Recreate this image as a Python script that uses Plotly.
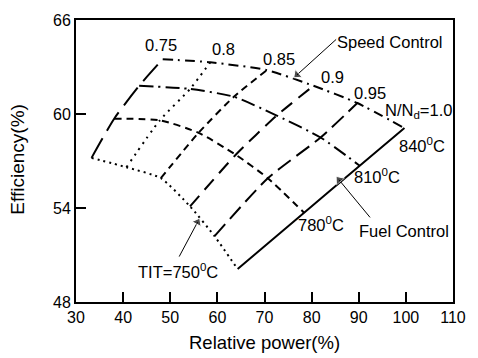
import plotly.graph_objects as go

# Grid of operating points: constant-TIT lines, each sampled at the speed ratios
speeds = [0.75, 0.8, 0.85, 0.9, 0.95, 1.0]
tits = [750, 780, 810, 840]

power_750 = [33.3, 40.7, 48.0, 54.2, 59.4, 64.3]
eff_750 = [57.2, 56.6, 55.9, 54.1, 52.2, 50.1]
power_780 = [38.1, 47.8, 56.0, 63.9, 70.7, 78.4]
eff_780 = [59.7, 59.6, 58.8, 57.4, 55.9, 53.7]
power_810 = [43.4, 54.2, 63.5, 72.6, 81.9, 90.2]
eff_810 = [61.8, 61.6, 61.1, 59.9, 58.5, 56.7]
power_840 = [48.4, 58.5, 70.5, 80.4, 89.7, 99.7]
eff_840 = [63.5, 63.3, 62.8, 61.8, 60.7, 59.1]

x_ticks = [30, 40, 50, 60, 70, 80, 90, 100, 110]
y_ticks = [48, 54, 60, 66]

powers = [power_750, power_780, power_810, power_840]
effs = [eff_750, eff_780, eff_810, eff_840]

FONT = "Arial, 'Liberation Sans', sans-serif"
fig = go.Figure()

tit_dash = ["2px,4px", "7px,5px", "14px,5px,2px,5px", "10px,5px,2px,5px"]
for p, e, d in zip(powers, effs, tit_dash):
    fig.add_trace(go.Scatter(x=p, y=e, mode="lines",
                             line=dict(color="black", width=2, dash=d, shape="spline", smoothing=0.6),
                             showlegend=False, hoverinfo="skip"))

speed_dash = ["22px,9px", "2px,5px", "7px,5px", "14px,8px", "16px,7px", "solid"]
for i, s in enumerate(speeds):
    xs = [p[i] for p in powers]
    ys = [e[i] for e in effs]
    fig.add_trace(go.Scatter(x=xs, y=ys, mode="lines",
                             line=dict(color="black", width=2, dash=speed_dash[i], shape="spline", smoothing=0.6),
                             showlegend=False, hoverinfo="skip"))

fs = 16.5
def txt(x, y, t, xanchor="center", size=fs):
    fig.add_annotation(x=x, y=y, text=t, showarrow=False, xanchor=xanchor, yanchor="middle",
                       font=dict(family=FONT, size=size, color="black"))

txt(48.0, 64.39, "0.75")
txt(61.4, 64.14, "0.8")
txt(73.0, 63.52, "0.85")
txt(84.4, 62.34, "0.9")
txt(92.4, 61.34, "0.95")
txt(95.1, 60.2, "N/N<sub>d</sub>=1.0", xanchor="left")
txt(103.5, 58.05, "840<sup>0</sup>C")
txt(93.9, 56.07, "810<sup>0</sup>C")
txt(81.9, 52.96, "780<sup>0</sup>C")
txt(99.5, 52.53, "Fuel Control")
txt(96.6, 64.57, "Speed Control")
txt(51.7, 49.99, "TIT=750<sup>0</sup>C")

def arrow(x0, y0, x1, y1):
    fig.add_trace(go.Scatter(x=[x0, x1], y=[y0, y1], mode="lines+markers",
                             line=dict(color="black", width=1),
                             marker=dict(symbol="triangle-up", size=[0, 9], color="black",
                                         angleref="previous"),
                             showlegend=False, hoverinfo="skip"))

arrow(85.2, 64.76, 76.9, 62.5)
arrow(92.4, 53.4, 85.8, 55.8)
arrow(51.9, 50.9, 55.8, 53.1)

# axis titles
fig.add_annotation(x=(270 - 76) / 387, y=(302 - 344) / 290, xref="paper", yref="paper",
                   text="Relative power(%)", showarrow=False, xanchor="center", yanchor="middle",
                   font=dict(family=FONT, size=18.5, color="black"))
fig.add_annotation(x=(15 - 76) / 387, y=(302 - 155) / 290, xref="paper", yref="paper",
                   text="Efficiency(%)", showarrow=False, xanchor="center", yanchor="middle",
                   textangle=-90, font=dict(family=FONT, size=19, color="black"))

axis_common = dict(showgrid=False, zeroline=False, showline=True, linecolor="black", linewidth=2,
                   mirror=True, ticks="inside", ticklen=10, tickwidth=1.5, tickcolor="black",
                   tickfont=dict(family=FONT, size=16, color="black"))
fig.update_xaxes(range=[30, 110], tickvals=x_ticks, **axis_common)
fig.update_yaxes(range=[48, 66], tickvals=y_ticks, **axis_common)

fig.update_layout(width=478, height=358, margin=dict(l=76, r=15, t=12, b=56),
                  plot_bgcolor="white", paper_bgcolor="white")

fig.write_html("out.html")
